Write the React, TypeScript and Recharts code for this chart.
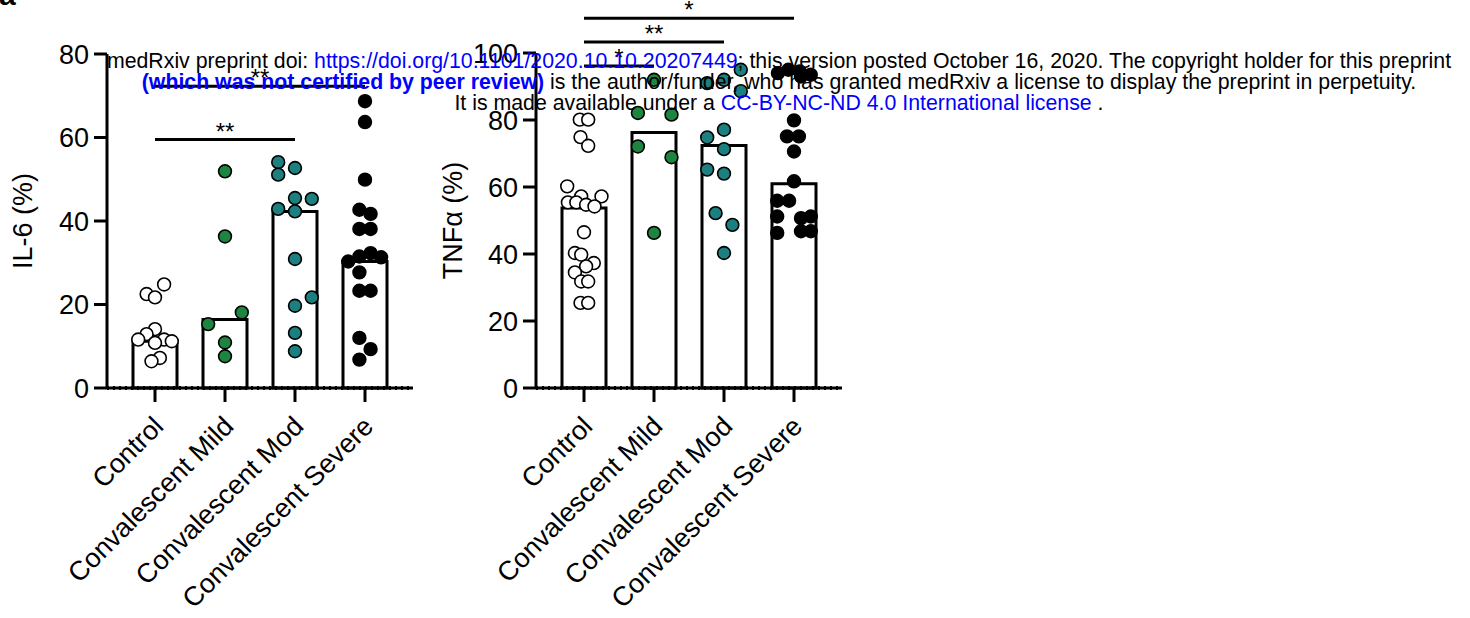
import React from 'react';
import {
    ComposedChart, Bar, Scatter, XAxis, YAxis, ReferenceLine
} from 'recharts';

const categories = ['Control', 'Convalescent Mild', 'Convalescent Mod', 'Convalescent Severe'];
const groupColors = ['#ffffff', '#1e8540', '#1c7f80', '#000000'];

// IL-6 (%): bar = group mean, points = donors (jitter in category units)
const il6Means = [11.2, 16.4, 42.3, 30.3];
const il6Control = [24.8, 22.5, 21.7, 14.1, 12.9, 11.6, 11.6, 11.2, 10.8, 7.2, 6.4];
const il6ControlJitter = [0.13, -0.12, 0, 0, -0.12, -0.24, 0.13, 0.24, 0, 0.07, -0.05];
const il6Mild = [51.9, 36.3, 18.1, 15.3, 10.9, 7.6];
const il6MildJitter = [0, 0, 0.24, -0.24, 0, 0];
const il6Mod = [54.1, 52.7, 51.1, 45.5, 45.3, 42.9, 42.3, 30.9, 21.7, 19.7, 13.2, 8.8];
const il6ModJitter = [-0.24, 0, -0.24, 0, 0.24, -0.24, 0, 0, 0.24, 0, 0, 0];
const il6Severe = [68.7, 63.7, 49.9, 42.7, 41.7, 38.1, 38.1, 32.3, 31.5, 31.3, 30.3, 27.7, 23.3, 23.3, 12.0, 9.3, 6.8];
const il6SevereJitter = [0, 0, 0, -0.08, 0.08, -0.08, 0.08, 0.08, -0.08, 0.23, -0.24, -0.08, -0.08, 0.08, -0.08, 0.08, -0.08];

// TNFa (%)
const tnfMeans = [53.7, 76.3, 72.4, 61.0];
const tnfControl = [80.1, 80.1, 74.9, 72.3, 60.2, 57.2, 57.2, 55.4, 55.4, 54.7, 54.2, 46.5, 40.3, 39.8, 37.3, 36.3, 34.5, 31.8, 31.8, 25.4, 25.4];
const tnfControlJitter = [-0.06, 0.06, -0.05, 0.06, -0.24, -0.04, 0.25, -0.23, -0.11, 0.03, 0.15, 0, -0.13, -0.04, 0.14, 0.03, -0.13, -0.04, 0.06, -0.05, 0.06];
const tnfMild = [92.0, 82.1, 81.6, 72.1, 68.9, 46.3];
const tnfMildJitter = [0, -0.23, 0.25, -0.23, 0.25, 0];
const tnfMod = [95.0, 92.0, 91.0, 88.6, 77.1, 74.8, 71.3, 65.2, 64.0, 52.2, 48.7, 40.3];
const tnfModJitter = [0.24, 0, -0.24, 0.24, 0, -0.24, 0, -0.24, 0, -0.12, 0.12, 0];
const tnfSevere = [94.0, 95.0, 94.5, 93.0, 93.5, 79.9, 75.1, 75.1, 70.6, 61.7, 55.9, 55.9, 51.2, 50.7, 51.2, 46.3, 46.8, 46.8];
const tnfSevereJitter = [-0.23, -0.08, 0.08, 0.1, 0.24, 0, -0.1, 0.07, 0, 0, -0.24, -0.07, -0.24, 0.1, 0.24, -0.24, 0.1, 0.24];

// significance brackets: [from group, to group, height, label]
const il6Sig: [number, number, number, string][] = [[0, 2, 59.5, '**'], [0, 3, 72.3, '**']];
const tnfSig: [number, number, number, string][] = [[0, 1, 96.1, '*'], [0, 2, 103.3, '**'], [0, 3, 110.4, '*']];

const font = '"Liberation Sans", Arial, sans-serif';

const toPoints = (vals: number[], jit: number[], g: number) =>
    vals.map((v, i) => ({ x: g + jit[i], y: v }));

const Dot = (color: string) => (props: any) => (
    <circle cx={props.cx} cy={props.cy} r={6.4} fill={color} stroke="#000" strokeWidth={1.6} />
);

const CatTick = (props: any) => {
    const { x, y, payload } = props;
    return (
        <g transform={`translate(${x + 10},${y + 24}) rotate(-45)`}>
            <text x={0} y={0} textAnchor="end" fontSize={27} fontFamily={font} fill="#000">{payload.value}</text>
        </g>
    );
};

interface PanelProps {
    means: number[];
    groups: { x: number; y: number }[][];
    yMax: number;
    ticks: number[];
    label: string;
    sig: [number, number, number, string][];
    top: number;
    yWidth: number;
    right: number;
}

function Panel({ means, groups, yMax, ticks, label, sig, top, yWidth, right }: PanelProps) {
    const data = categories.map((c, i) => ({ name: c, mean: means[i] }));
    const axisStyle = { stroke: '#000', strokeWidth: 3 };
    return (
        <ComposedChart width={430} height={618} data={data} margin={{ top, right, bottom: 0, left: 0 }}>
            <XAxis xAxisId="cat" dataKey="name" type="category" height={230} padding={{ left: 13, right: 13 }}
                axisLine={axisStyle} tickLine={axisStyle} tickSize={14} tick={<CatTick />} interval={0} />
            <XAxis xAxisId="num" dataKey="x" type="number" domain={[-0.5, 3.5]} hide padding={{ left: 13, right: 13 }} />
            <YAxis width={yWidth} domain={[0, yMax]} ticks={ticks} interval={0} axisLine={axisStyle} tickLine={axisStyle}
                tickSize={13} tickMargin={5} tick={{ fill: '#000', fontSize: 27, fontFamily: font }}
                label={{ value: label, angle: -90, position: 'insideLeft', offset: 22, style: { textAnchor: 'middle', fontSize: 27, fontFamily: font, fill: '#000' } }} />
            <Bar xAxisId="cat" dataKey="mean" fill="#fff" stroke="#000" strokeWidth={3} barSize={44} isAnimationActive={false} />
            <ReferenceLine xAxisId="num" y={0} stroke="#000" strokeWidth={4} strokeDasharray="2 4" ifOverflow="visible" />
            {groups.map((pts, g) => (
                <Scatter key={g} xAxisId="num" data={pts} dataKey="y" shape={Dot(groupColors[g])} isAnimationActive={false} />
            ))}
            {sig.map(([a, b, h, s], i) => (
                <ReferenceLine key={`sig-${i}`} xAxisId="num" segment={[{ x: a, y: h }, { x: b, y: h }]} stroke="#000" strokeWidth={3}
                    ifOverflow="visible" label={{ value: s, position: 'top', offset: 0, fontSize: 24, fontFamily: font, fill: '#000' }} />
            ))}
        </ComposedChart>
    );
}

export default function App() {
    const il6Groups = [
        toPoints(il6Control, il6ControlJitter, 0),
        toPoints(il6Mild, il6MildJitter, 1),
        toPoints(il6Mod, il6ModJitter, 2),
        toPoints(il6Severe, il6SevereJitter, 3),
    ];
    const tnfGroups = [
        toPoints(tnfControl, tnfControlJitter, 0),
        toPoints(tnfMild, tnfMildJitter, 1),
        toPoints(tnfMod, tnfModJitter, 2),
        toPoints(tnfSevere, tnfSevereJitter, 3),
    ];
    const link = { color: '#0000ff' };
    return (
        <div style={{ position: 'absolute', left: 0, top: 0, width: 1470, height: 618, background: '#fff', overflow: 'hidden', fontFamily: font }}>
            <div style={{ position: 'absolute', left: 0, top: 0 }}>
                <Panel means={il6Means} groups={il6Groups} yMax={80} ticks={[0, 20, 40, 60, 80]} label="IL-6 (%)"
                    sig={il6Sig} top={54} yWidth={107} right={17} />
            </div>
            <div style={{ position: 'absolute', left: 430, top: 0 }}>
                <Panel means={tnfMeans} groups={tnfGroups} yMax={100} ticks={[0, 20, 40, 60, 80, 100]} label="TNFα (%)"
                    sig={tnfSig} top={53} yWidth={106} right={18} />
            </div>
            <div style={{ position: 'absolute', left: -1, top: -20, fontSize: 30, fontWeight: 700, color: '#000', lineHeight: '30px' }}>a</div>
            <div style={{ position: 'absolute', left: 0, top: 51, width: 1558, textAlign: 'center', fontSize: 21.3, lineHeight: '21px', color: '#000', whiteSpace: 'nowrap', pointerEvents: 'none' }}>
                <div>medRxiv preprint doi: <span style={link}>https://doi.org/10.1101/2020.10.10.20207449</span>; this version posted October 16, 2020. The copyright holder for this preprint</div>
                <div><span style={{ ...link, fontWeight: 700 }}>(which was not certified by peer review)</span> is the author/funder, who has granted medRxiv a license to display the preprint in perpetuity.</div>
                <div>It is made available under a <span style={link}>CC-BY-NC-ND 4.0 International license</span> .</div>
            </div>
        </div>
    );
}
